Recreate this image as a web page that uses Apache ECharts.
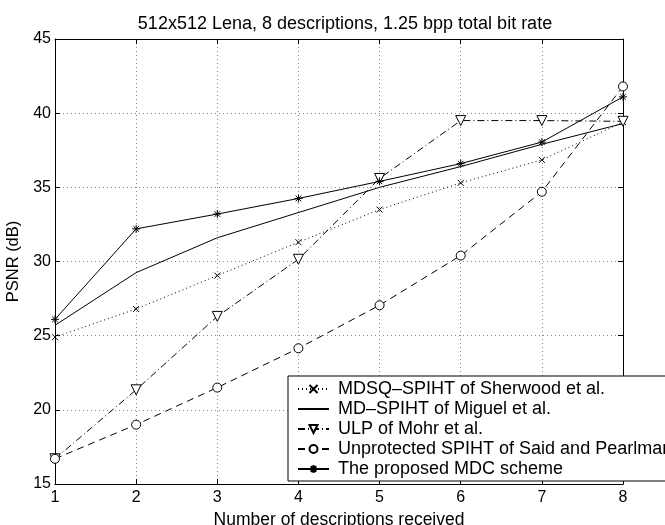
<!DOCTYPE html>
<html lang="en">
<head>
    <meta charset="UTF-8">
    <title>512x512 Lena PSNR</title>
    <script src="https://cdn.jsdelivr.net/npm/echarts@6/dist/echarts.min.js"></script>
    <style>
        html, body { margin: 0; padding: 0; background: #fff; }
        #chart { width: 665px; height: 525px; }
    </style>
</head>
<body>
    <div id="chart"></div>

    <script>
        // data
        const descriptions = [1, 2, 3, 4, 5, 6, 7, 8];
        const mdsqSpiht = [24.9, 26.8, 29.05, 31.3, 33.5, 35.3, 36.85, 39.4];
        const mdSpiht = [25.7, 29.25, 31.6, 33.3, 35.0, 36.4, 37.9, 39.3];
        const ulpMohr = [16.7, 21.35, 26.3, 30.15, 35.6, 39.5, 39.5, 39.45];
        const unprotected = [16.7, 19.0, 21.5, 24.15, 27.05, 30.4, 34.7, 41.8];
        const proposed = [26.1, 32.2, 33.2, 34.25, 35.4, 36.6, 38.05, 41.1];
        const seriesNames = [
            'MDSQ–SPIHT of Sherwood et al.',
            'MD–SPIHT of Miguel et al.',
            'ULP of Mohr et al.',
            'Unprotected SPIHT of Said and Pearlman',
            'The proposed MDC scheme'
        ];

        const font = 'Liberation Sans, Arial, Helvetica, sans-serif';
        const pairs = ys => descriptions.map((x, i) => [x, ys[i]]);

        // marker shapes (thin strokes, like the matlab markers)
        const crossSym = 'path://M0,0L10,10M0,10L10,0';
        const starSym = 'path://M5,0L5,10M0,5L10,5M1.5,1.5L8.5,8.5M1.5,8.5L8.5,1.5';
        const triSym = 'path://M0,0L10,0L5,9Z';
        const ringSym = 'path://M10,5A5,5,0,1,1,0,5A5,5,0,1,1,10,5Z';

        function makeSeries(name, ys, lineType, symbol, size, fill) {
            return {
                name: name,
                type: 'line',
                data: pairs(ys),
                symbol: symbol,
                symbolSize: size,
                showAllSymbol: true,
                lineStyle: { color: '#000', width: 1, type: lineType },
                itemStyle: { color: fill, borderColor: '#000', borderWidth: 1 },
                emphasis: { disabled: true },
                z: 3
            };
        }

        const chart = echarts.init(document.getElementById('chart'));

        const gridDots = { show: true, lineStyle: { color: '#888', type: [1, 3] } };
        const baseX = {
            type: 'value', min: 1, max: 8, interval: 1,
            axisLine: { lineStyle: { color: '#000', width: 1 } },
            axisTick: { inside: true, length: 5, lineStyle: { color: '#000' } }
        };
        const baseY = {
            type: 'value', min: 15, max: 45, interval: 5,
            axisLine: { show: true, lineStyle: { color: '#000', width: 1 } },
            axisTick: { show: true, inside: true, length: 5, lineStyle: { color: '#000' } }
        };

        const option = {
            animation: false,
            backgroundColor: '#fff',
            title: {
                text: '512x512 Lena, 8 descriptions, 1.25 bpp total bit rate',
                left: 340,
                textAlign: 'center',
                top: 10,
                textStyle: { fontFamily: font, fontSize: 18, fontWeight: 'normal', color: '#000' }
            },
            grid: { left: 55, right: 42, top: 39, bottom: 41, containLabel: false, outerBoundsMode: 'none' },
            legend: {
                orient: 'vertical',
                left: 288,
                top: 376,
                padding: [4, 8, 3, 9],
                itemGap: 2,
                itemWidth: 31,
                itemHeight: 10,
                backgroundColor: '#fff',
                borderColor: '#000',
                borderWidth: 1,
                borderRadius: 0,
                selectedMode: false,
                textStyle: { fontFamily: font, fontSize: 18, lineHeight: 18, color: '#000', padding: [0, 0, 0, 4] },
                data: [
                    seriesNames[0],
                    { name: seriesNames[1], itemStyle: { opacity: 0 } },
                    seriesNames[2],
                    seriesNames[3],
                    seriesNames[4]
                ]
            },
            xAxis: [
                Object.assign({}, baseX, {
                    position: 'bottom',
                    name: 'Number of descriptions received',
                    nameLocation: 'middle',
                    nameGap: 23,
                    nameTextStyle: { fontFamily: font, fontSize: 17.5, color: '#000' },
                    axisLabel: { fontFamily: font, fontSize: 16, color: '#000', margin: 6 },
                    splitLine: gridDots
                }),
                Object.assign({}, baseX, {
                    position: 'top',
                    axisLabel: { show: false },
                    splitLine: { show: false }
                })
            ],
            yAxis: [
                Object.assign({}, baseY, {
                    position: 'left',
                    name: 'PSNR (dB)',
                    nameLocation: 'middle',
                    nameGap: 24,
                    nameTextStyle: { fontFamily: font, fontSize: 16.5, color: '#000' },
                    axisLabel: { fontFamily: font, fontSize: 16, color: '#000', margin: 4 },
                    splitLine: gridDots
                }),
                Object.assign({}, baseY, {
                    position: 'right',
                    axisLabel: { show: false },
                    splitLine: { show: false }
                })
            ],
            series: [
                makeSeries(seriesNames[0], mdsqSpiht, [1, 3], crossSym, 6, 'none'),
                makeSeries(seriesNames[1], mdSpiht, 'solid', 'none', 0, '#000'),
                makeSeries(seriesNames[2], ulpMohr, [7, 3, 1, 3], triSym, 10, '#fff'),
                makeSeries(seriesNames[3], unprotected, [7, 5], ringSym, 9, '#fff'),
                makeSeries(seriesNames[4], proposed, 'solid', starSym, 8, 'none')
            ]
        };

        chart.setOption(option);
    </script>
</body>
</html>
